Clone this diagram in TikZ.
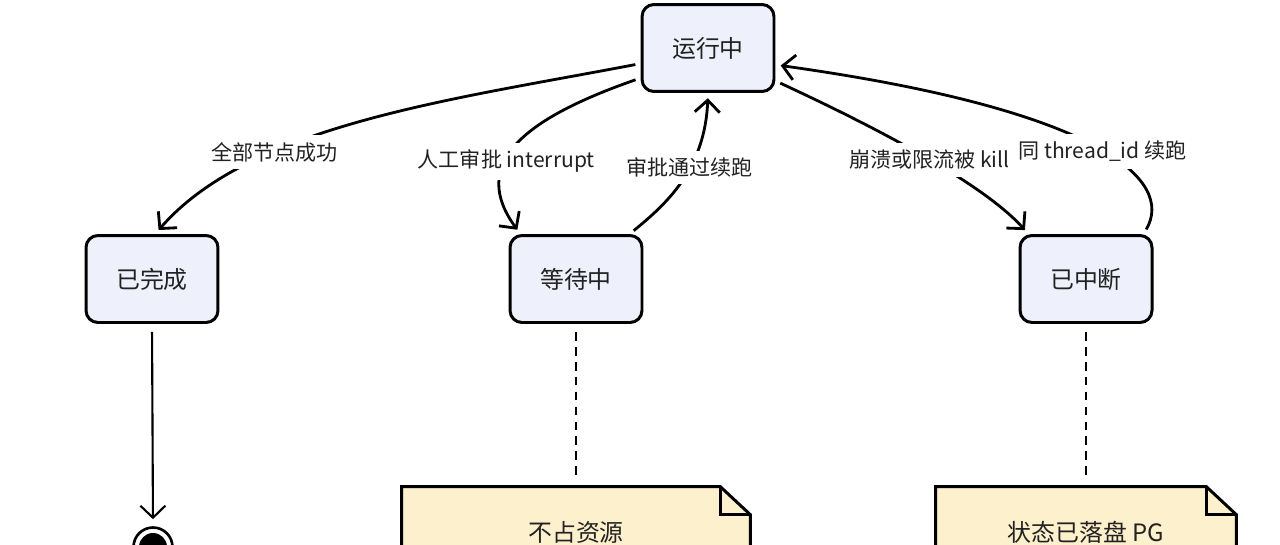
\documentclass[tikz,border=0pt]{standalone}
\usepackage{fontspec}
\setmainfont{Noto Sans CJK SC}
\usepackage{tikz}
\usetikzlibrary{arrows.meta,backgrounds}
\definecolor{stateblue}{HTML}{EEF1FB}
\definecolor{memoyellow}{HTML}{FDF0CD}
\definecolor{inkgray}{HTML}{222222}

\begin{document}
\begin{tikzpicture}[%
        x=0.02cm, y=-0.02cm,
        state/.style={rectangle, rounded corners=0.24cm, draw=black, line width=1.7pt, fill=stateblue, minimum width=2.64cm, minimum height=1.74cm, font=\fontsize{13.6}{16}\selectfont, text=inkgray},
        trans/.style={line width=1.6pt, -{Straight Barb[length=2.4mm,width=5mm]}, shorten <=3pt, shorten >=3pt},
        cond/.style={fill=white, inner sep=4pt, font=\fontsize{12}{14}\selectfont, text=inkgray},
        memo/.style={minimum height=1.8cm, font=\fontsize{13.6}{16}\selectfont, text=inkgray},
        memoline/.style={draw=black, line width=1.7pt, fill=memoyellow},
        tether/.style={line width=1.2pt, dash pattern=on 5pt off 3.5pt, shorten <=4.5pt, shorten >=5pt}
        ]
        \useasboundingbox (0,0) rectangle (1280,544);

        \node[state] (run)  at (708,48)  {运行中};
        \node[state] (done) at (152,279) {已完成};
        \node[state] (wait) at (576,279) {等待中};
        \node[state] (int)  at (1086,279) {已中断};

        \node[circle, draw=black, line width=1.5pt, minimum size=0.78cm, inner sep=0pt] (finish) at (153,547) {};
        \node[circle, fill=black, minimum size=0.56cm, inner sep=0pt] (finishcore) at (finish) {};

        \node[memo, minimum width=6.96cm] (idle) at (576,532) {不占资源};
        \node[memo, minimum width=6cm] (saved) at (1086,532) {状态已落盘 PG};
        \begin{scope}[on background layer]
            \foreach \m in {idle,saved} {
                \draw[memoline] (\m.south west) -- (\m.north west) -- ([xshift=-0.6cm]\m.north east)
                    -- ([yshift=-0.56cm]\m.north east) -- (\m.south east) -- cycle;
                \draw[line width=1.7pt] ([xshift=-0.6cm]\m.north east) -- ([xshift=-0.6cm,yshift=-0.56cm]\m.north east)
                    -- ([yshift=-0.56cm]\m.north east);
            }
        \end{scope}

        \draw[trans] (run.193) .. controls (450,100) and (250,125) .. (done.86)
            node[cond, pos=0.68] (lblA) {全部节点成功};
        \draw[trans] (run.204) .. controls (520,120) and (470,165) .. (wait.141)
            node[cond, pos=0.6] (lblB) {人工审批 interrupt};
        \draw[trans] (wait.40) .. controls (665,205) and (705,170) .. (run.south)
            node[cond, pos=0.6] (lblC) {审批通过续跑};
        \draw[trans] (run.-26) .. controls (860,120) and (980,180) .. (int.142)
            node[cond, pos=0.55] (lblD) {崩溃或限流被 kill};
        \draw[trans] (int.38) .. controls (1175,180) and (1100,110) .. (run.-14)
            node[cond, pos=0.47] (lblE) {同 thread\_id 续跑};

        \draw[trans, line width=1.2pt, shorten <=4.5pt, shorten >=4pt] (done.south) -- (finish.north);
        \draw[tether] (wait.south) -- (idle.north);
        \draw[tether] (int.south) -- (saved.north);
    \end{tikzpicture}
\end{document}
